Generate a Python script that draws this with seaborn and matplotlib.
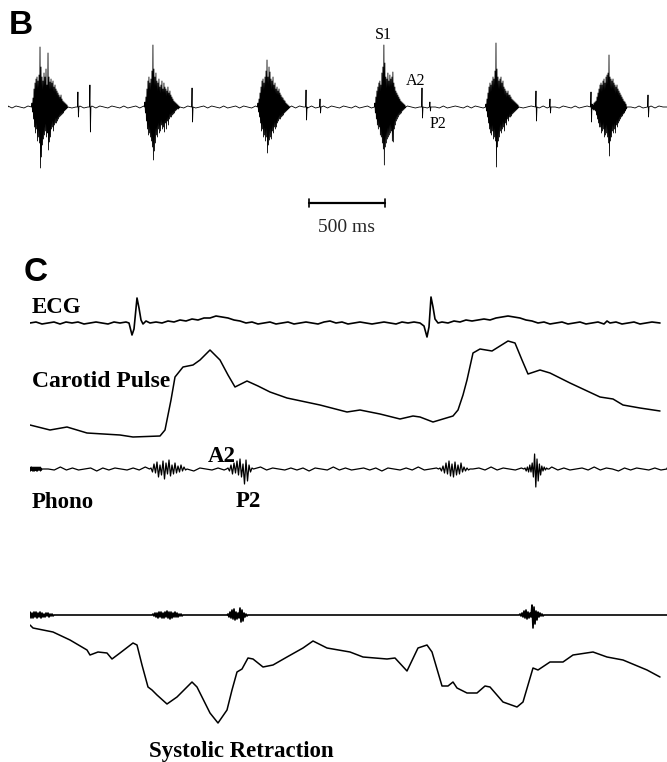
import numpy as np
import pandas as pd
import seaborn as sns
import matplotlib
matplotlib.use("Agg")
import matplotlib.pyplot as plt

# ---- panel B : heart sounds (time in ms, amplitude in arbitrary units) ----
b_onsets_ms = [158, 901, 1645, 2414, 3145, 3836]
b_dt_ms = 500 / 152
b_burst1 = [4, -5, 9, -12, 18, -20, 24, -26, 28, -22, 30, -34, 26, -30, 32, -36,
            60, -61, 40, -50, 30, -38, 26, -32, 34, -28, 30, -24, 38, -30, 22, -26,
            54, -43, 30, -35, 25, -30, 28, -22, 24, -20, 26, -24, 20, -18, 22, -16,
            18, -16, 16, -14, 14, -12, 12, -10, 10, -9, 12, -8, 8, -7, 6, -6,
            5, -4, 4, -3, 3, -2, 2, -1]
b_burst2 = [5, -6, 10, -14, 18, -22, 26, -28, 30, -26, 24, -30, 28, -34, 36, -40,
            62, -53, 38, -44, 30, -36, 34, -28, 26, -30, 24, -22, 28, -26, 20, -24,
            22, -18, 26, -22, 18, -20, 24, -25, 20, -16, 18, -22, 16, -14, 20, -18,
            14, -12, 16, -10, 12, -10, 10, -8, 8, -7, 6, -6, 5, -4, 4, -3,
            3, -2, 2, -2, 1, -1]
b_burst3 = [4, -5, 8, -10, 14, -16, 20, -24, 26, -22, 28, -30, 24, -28, 30, -34,
            36, -30, 47, -46, 30, -38, 40, -33, 35, -30, 28, -32, 26, -24, 30, -26,
            22, -20, 24, -22, 18, -20, 20, -16, 16, -14, 18, -12, 14, -12, 12, -10,
            10, -9, 9, -8, 7, -6, 6, -5, 4, -4, 3, -3, 2, -2, 1, -1]
b_burst4 = [4, -6, 10, -12, 16, -18, 20, -22, 24, -20, 26, -28, 22, -30, 34, -36,
            40, -42, 62, -58, 44, -40, 30, -36, 28, -32, 34, -30, 26, -28, 32, -26,
            28, -24, 30, -34, 35, -35, 24, -22, 20, -18, 16, -14, 14, -12, 12, -10,
            10, -8, 8, -7, 6, -6, 5, -4, 4, -3, 3, -2, 2, -1]
b_burst5 = [3, -4, 8, -10, 14, -16, 20, -22, 24, -26, 22, -28, 26, -24, 30, -32,
            28, -30, 36, -34, 64, -60, 38, -40, 30, -34, 26, -30, 28, -24, 30, -26,
            24, -22, 26, -20, 20, -24, 18, -16, 16, -18, 14, -12, 16, -14, 12, -10,
            12, -10, 10, -9, 8, -7, 7, -6, 6, -5, 5, -4, 4, -3, 3, -2, 2, -1]
b_burst6 = [15, -15, 3, -2, 2, -3, 4, -3, 5, -4, 6, -8, 10, -12, 14, -16,
            18, -20, 22, -20, 24, -26, 22, -24, 26, -22, 28, -30, 24, -28, 30, -26,
            32, -30, 34, -36, 52, -49, 30, -34, 28, -30, 26, -24, 28, -26, 24, -22,
            22, -26, 20, -18, 22, -20, 18, -16, 16, -14, 14, -12, 12, -10, 10, -9,
            8, -7, 6, -6, 5, -4, 3, -2]
b_extra_ms = [460, 539, 1211, 1961, 2053, 2724, 2776, 3474, 3566, 4211]
b_extra_up = [15, 22, 19, 17, 8, 19, 5, 16, 8, 12]
b_extra_dn = [-10, -25, -15, -13, -6, -11, -4, -14, -6, -10]
b_hiss = [1, -1, 1, 0, -1, 1, -1, 0, 1, -1, 1, 0, 0, 1, -1, 1, -1, 0, 1, -1, 0, 1, -1, 1, 0, -1, 1, 0, -1, 1,
          -1, 0, 1, -1, 1, 0, -1, 1, -1, 0, 1, 0, -1, 1, -1, 1, 0, -1, 0, 1, -1, 1, 0, -1, 1, -1, 0, 1, -1, 1,
          0, -1, 1, -1, 0, 1, -1, 1, 0, 0, -1, 1, -1, 1, 0, -1, 1, -1, 0, 1, -1, 1, 0, -1, 1, 0, -1, 1, -1, 0,
          1, -1, 1, 0, -1, 1, -1, 0, 1, -1, 1, 0, -1, 0, 1, -1, 1, 0, -1, 1, -1, 0, 1, 0, -1, 1, -1, 1, 0, -1,
          1, -1, 0, 1, -1, 1, 0, -1, 1, -1, 0, 1, 0, -1, 1, -1, 1, 0, -1, 1, 0, -1, 1, -1, 0, 1, -1, 1, 0, -1,
          1, -1, 0, 1, -1, 1, 0, -1, 1, -1, 0, 1, -1, 1, 0, 0]
b_total_ms = 4336
scale_bar_ms = [1980, 2480]

# ---- panel C (time in samples, amplitude in arbitrary units) ----
ecg_t = [0, 6, 12, 18, 24, 30, 36, 42, 48, 54, 60, 66, 72, 78, 84, 90, 96, 99, 102, 104,
         107, 109, 111, 113, 116, 120, 126, 132, 138, 144, 150, 156, 162, 168, 174, 180,
         186, 192, 198, 204, 210, 216, 222, 228, 234, 240, 246, 252, 258, 264, 270, 276,
         282, 288, 294, 300, 303, 306, 312, 318, 324, 330, 336, 342, 348, 354, 360, 366,
         372, 378, 384, 390, 394, 397, 399, 401, 403, 405, 408, 412, 418, 424, 430, 436,
         442, 448, 454, 460, 466, 472, 478, 484, 490, 496, 502, 508, 514, 520, 526, 532,
         538, 544, 550, 556, 562, 568, 574, 577, 580, 586, 592, 598, 604, 610, 616, 622, 630]
ecg_v = [0, 1, -1, 0, 1, -1, 1, 0, 1, -1, 0, 1, 0, -1, 1, 0, 1, 0, -12, -6,
         25, 15, 3, -1, 2, 0, 1, 0, 2, 1, 3, 2, 4, 3, 5, 5,
         7, 6, 5, 3, 2, 0, 1, -1, 0, 1, -1, 0, 1, -1, 0, 1,
         0, -1, 1, 2, 1, 0, 1, -1, 0, 1, 0, -1, 0, 1, 0, -1,
         1, 0, 1, 0, -3, -14, -4, 26, 16, 4, 0, 1, 0, 2, 1, 3,
         2, 3, 4, 3, 5, 6, 7, 6, 5, 3, 2, 0, 1, -1, 0, 1,
         -1, 0, 1, -1, 0, 1, -1, 2, 0, 1, -1, 0, 1, -1, 0, 1, 0]

carotid_t = [0, 20, 37, 57, 90, 103, 130, 135, 137, 141, 145, 153, 163, 170, 180, 190,
             198, 205, 217, 228, 240, 257, 290, 317, 330, 350, 370, 383, 390, 403, 423,
             428, 433, 437, 443, 450, 462, 478, 485, 492, 498, 510, 520, 540, 570, 583,
             593, 610, 630]
carotid_v = [5, 0, 3, -3, -5, -7, -6, 0, 10, 30, 53, 63, 65, 70, 80, 70,
             55, 43, 49, 44, 38, 32, 25, 18, 20, 16, 11, 14, 13, 8, 14,
             20, 35, 50, 77, 81, 79, 89, 87, 70, 56, 60, 57, 47, 33, 31,
             25, 22, 19]

phono1_starts = [-1, 121, 198, 410, 495]
phono1_hiss = [2, -2, 1, -2, 2, -1, 2, -2, 1, -2, 2, -2, 1, -1, 2, -2, 1, -2, 2, -1, 1, -1, 2, -2, 1, -1]
phono1_s2a = [1, -3, 5, -4, 7, -8, 4, -6, 8, -10, 6, -5, 9, -7, 4, -5, 6, -4, 3, -3, 4, -2, 2, -1]
phono1_a2p2 = [1, -2, 4, -5, 6, -4, 8, -6, 10, -8, 5, -15, 9, -12, 4, -3, 1]
phono1_s2b = [1, -2, 3, -4, 6, -5, 8, -7, 5, -8, 7, -6, 4, -5, 6, -3, 2, -2, 1, -1]
phono1_s2c = [1, -2, 2, -3, 4, -3, 6, -8, 15, -18, 10, -12, 5, -6, 3, -2, 2, -1, 1, 0]
phono1_ripple = [1, -1, 1, 0, -1, 2, -1, 1, -1, 0, 1, -2, 1, -1, 1, 0, -1, 1, -1, 2, -1, 1, 0, -1, 1, -1, 2,
                 -2, 1, 0, -1, 1, -1, 1, 0, -2, 1, -1, 2, -1, 1, 0, -1, 1, -1, 1, -2, 1, 0, -1, 2, -1, 1,
                 -1, 0, 1, -1, 1, -2, 1, 0, -1, 1, -1, 2, -1, 0, 1, -1, 1, -2, 1, -1, 0, 1, -1, 2, -1, 1,
                 0, -1, 1, -2, 1, -1, 0, 2, -1, 1, -1, 0, 1, -1, 2, -1, 1, 0, -2, 1, -1, 1, 0, -1, 1, -1, 1]

phono2_starts = [0, 123, 198, 490]
phono2_hiss = [3, -3, 2, -3, 3, -2, 3, -3, 2, -2, 3, -3, 2, -2, 1, -2, 2, -1, 2, -2, 1, -1, 1, -1]
phono2_a = [1, -1, 2, -2, 2, -3, 3, -2, 3, -3, 2, -3, 3, -2, 4, -3, 3, -4, 3, -3,
            2, -2, 3, -2, 2, -2, 1, -1, 1, -1]
phono2_b = [1, -2, 3, -3, 5, -4, 6, -5, 3, -4, 2, -3, 7, -7, 5, -6, 2, -2, 1, -1]
phono2_c = [1, -1, 2, -2, 4, -3, 5, -4, 3, -3, 2, -2, 10, -13, 8, -9, 4, -5, 3, -2, 2, -1, 1, -1]

retraction_t = [0, 3, 23, 40, 57, 60, 68, 77, 82, 90, 103, 107, 112, 118, 122, 127, 137,
                147, 162, 167, 175, 180, 188, 197, 202, 207, 212, 218, 223, 233, 243, 257,
                273, 283, 297, 320, 333, 357, 365, 377, 388, 397, 402, 412, 418, 423, 427,
                437, 447, 455, 460, 473, 487, 493, 503, 508, 520, 533, 543, 563, 577, 593,
                617, 630]
retraction_v = [0, -3, -7, -15, -25, -30, -27, -28, -34, -28, -18, -20, -40, -62, -65, -70,
                -79, -72, -57, -62, -78, -88, -98, -85, -65, -47, -44, -33, -34, -42, -40,
                -32, -23, -16, -23, -27, -32, -34, -33, -46, -23, -20, -27, -61, -61, -57,
                -63, -68, -68, -61, -62, -77, -82, -77, -43, -45, -37, -37, -30, -27, -32,
                -35, -45, -52]

W, H = 667, 762
sns.set_theme(style="white")
plt.rcParams["font.family"] = ["Liberation Serif", "DejaVu Serif"]

fig = plt.figure(figsize=(W / 100, H / 100), dpi=100)


def trace_axes(x0, x1, base, up, down, xlim):
    # one axes per trace, 1 amplitude unit = 1 pixel
    ax = fig.add_axes([x0 / W, 1 - (base + down) / H, (x1 - x0) / W, (up + down) / H])
    ax.set_xlim(xlim)
    ax.set_ylim(-down, up)
    ax.axis("off")
    return ax


def draw(ax, t, v, lw=1.1, color="black"):
    df = pd.DataFrame({"t": t, "v": v}).sort_values("t", kind="stable")
    sns.lineplot(data=df, x="t", y="v", ax=ax, color=color, linewidth=lw,
                 estimator=None, sort=False)


def segments(starts, parts, steps, end, ripple=None):
    t, v = [0, end], [0, 0]
    spans = []
    for s, part, step in zip(starts, parts, steps):
        t += [s - step] + [s + i * step for i in range(len(part))] + [s + len(part) * step]
        v += [0] + list(part) + [0]
        spans.append((s - 2 * step, s + (len(part) + 1) * step))
    if ripple is not None:
        # baseline noise between the sound bursts
        rt = np.linspace(0, end, len(ripple))
        for x, r in zip(rt, ripple):
            if not any(a <= x <= b for a, b in spans):
                t.append(x)
                v.append(r)
    return t, v


# panel B
axb = trace_axes(8, 667, 107, 65, 133, (0, b_total_ms))
starts = list(b_onsets_ms)
parts = [b_burst1, b_burst2, b_burst3, b_burst4, b_burst5, b_burst6]
steps = [b_dt_ms] * 6
for t, up, dn in zip(b_extra_ms, b_extra_up, b_extra_dn):
    starts.append(t)
    parts.append([up, dn])
    steps.append(b_dt_ms)
bt, bv = segments(starts, parts, steps, b_total_ms, b_hiss)
draw(axb, bt, bv, lw=0.6)
axb.plot(scale_bar_ms, [-96, -96], color="black", lw=1.6)
for x in scale_bar_ms:
    axb.plot([x, x], [-92, -100], color="black", lw=1.2)

# panel C
xc = (0, 637)
ax_ecg = trace_axes(30, 667, 323, 30, 20, xc)
draw(ax_ecg, ecg_t, ecg_v, lw=1.2)

ax_car = trace_axes(30, 667, 430, 95, 15, xc)
draw(ax_car, carotid_t, carotid_v, lw=1.1)

ax_p1 = trace_axes(30, 667, 469, 20, 20, xc)
pt, pv = segments(phono1_starts, [phono1_hiss, phono1_s2a, phono1_a2p2, phono1_s2b, phono1_s2c],
                  [0.5, 1.5, 1.5, 1.5, 1.2], 637, phono1_ripple)
draw(ax_p1, pt, pv, lw=0.9)

ax_p2 = trace_axes(30, 667, 615, 15, 15, xc)
pt, pv = segments(phono2_starts, [phono2_hiss, phono2_a, phono2_b, phono2_c], [1, 1, 1, 1], 637)
draw(ax_p2, pt, pv, lw=1.2)

ax_ret = trace_axes(30, 667, 625, 10, 110, xc)
draw(ax_ret, retraction_t, retraction_v, lw=1.1)


def label(x, y, s, size, weight="normal", family=None):
    kw = {"family": family} if family else {}
    fig.text(x / W, 1 - y / H, s, fontsize=size, fontweight=weight,
             ha="left", va="baseline", color="black", **kw)


sans = ["Liberation Sans", "DejaVu Sans"]
label(9, 34, "B", 24, "bold", sans)
label(24, 281, "C", 24, "bold", sans)
label(375, 39, "S1", 11.5)
label(406, 85, "A2", 11.5)
label(430, 128, "P2", 11.5)
fig.text(347 / W, 1 - 232 / H, "500 ms", fontsize=14, ha="center", va="baseline")
label(32, 313, "ECG", 16.5, "bold")
label(32, 387, "Carotid Pulse", 17, "bold")
label(208, 462, "A2", 16.5, "bold")
label(236, 507, "P2", 16.5, "bold")
label(32, 508, "Phono", 16.5, "bold")
label(149, 757, "Systolic Retraction", 16.5, "bold")

fig.savefig("out.png", dpi=100, facecolor="white")
